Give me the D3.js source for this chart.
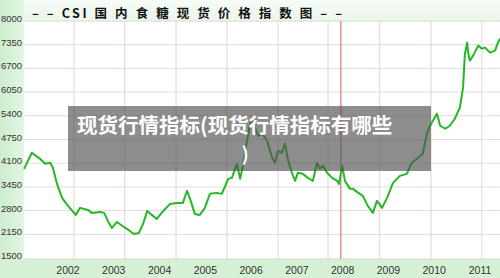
<!DOCTYPE html>
<html>
<head>
<meta charset="utf-8">
<script src="https://cdn.jsdelivr.net/npm/d3@7"></script>
<style>
  body { margin: 0; background: #fff; }
  svg { display: block; }
</style>
</head>
<body>
<div class="chart-area"></div>
<script>
// price index, decimal year -> value
const years = [2001.04, 2001.21, 2001.39, 2001.50, 2001.61, 2001.67, 2001.76, 2001.87, 2002.00, 2002.17,
  2002.26, 2002.44, 2002.52, 2002.70, 2002.79, 2002.87, 2002.96, 2003.07, 2003.22, 2003.35,
  2003.44, 2003.55, 2003.64, 2003.73, 2003.83, 2003.94, 2004.08, 2004.23, 2004.38, 2004.51,
  2004.60, 2004.66, 2004.77, 2004.88, 2004.99, 2005.10, 2005.25, 2005.36, 2005.50, 2005.58,
  2005.69, 2005.76, 2005.82, 2005.91, 2005.98, 2006.02, 2006.08, 2006.15, 2006.24, 2006.35,
  2006.46, 2006.52, 2006.59, 2006.67, 2006.74, 2006.81, 2006.89, 2006.96, 2007.02, 2007.13,
  2007.24, 2007.35, 2007.44, 2007.50, 2007.57, 2007.66, 2007.77, 2007.88, 2007.92, 2007.99,
  2008.05, 2008.16, 2008.23, 2008.31, 2008.44, 2008.55, 2008.66, 2008.75, 2008.86, 2008.97,
  2009.10, 2009.25, 2009.40, 2009.51, 2009.65, 2009.75, 2009.84, 2009.89, 2009.97, 2010.06,
  2010.13, 2010.24, 2010.34, 2010.45, 2010.56, 2010.63, 2010.67, 2010.72, 2010.74, 2010.78,
  2010.85, 2010.96, 2011.04, 2011.11, 2011.22, 2011.33, 2011.39, 2011.44];
const prices = [3946, 4385, 4220, 4083, 4110, 3973, 3533, 3149, 2929, 2682,
  2874, 2819, 2737, 2764, 2737, 2517, 2324, 2489, 2352, 2242,
  2160, 2187, 2434, 2791, 2682, 2572, 2791, 2984, 3011, 3011,
  3341, 3149, 2709, 2682, 2874, 3259, 3286, 3259, 3671, 3698,
  4083, 3671, 4028, 4715, 5182, 5265, 5100, 4852, 4907, 4715,
  4248, 4110, 4440, 4385, 4633, 4165, 3836, 3616, 3836, 3808,
  3698, 3616, 4110, 3950, 4028, 3836, 3698, 3616, 3533, 4028,
  3616, 3396, 3396, 3314, 3204, 2929, 2737, 3066, 2874, 3149,
  3561, 3753, 3808, 4110, 4248, 4358, 4907, 5072, 5265, 5457,
  5127, 5045, 5127, 5320, 5622, 6172, 7106, 7408, 7133, 6914,
  7051, 7325, 7243, 7270, 7133, 7188, 7408, 7518];

const yTicks = [1500, 2150, 2800, 3450, 4100, 4750, 5400, 6050, 6700, 7350, 8000];
const yearLabels = [2002, 2003, 2004, 2005, 2006, 2007, 2008, 2009, 2010, 2011];
const gridYears = [2002.13, 2003.24, 2004.36, 2005.47, 2006.59, 2007.68, 2008.81, 2009.93, 2011.04];
const markYear = 2007.96;

const title = "– –  CSI 国 内 食 糖 现 货 价 格 指 数 图  – –";
const overlayLines = ["现货行情指标(现货行情指标有哪些", ")"];

let width = 500;
let height = 278;

const svg = d3.select(".chart-area").append("svg")
  .attr("width", width)
  .attr("height", height);

const x = d3.scaleLinear()
  .domain([2002, 2011])
  .range([68, 480]);

const y = d3.scaleLinear()
  .domain([1500, 8000])
  .range([258, 21]);

// background bands
const defs = svg.append("defs");
const gl = defs.append("linearGradient").attr("id", "leftband");
gl.append("stop").attr("offset", "0%").attr("stop-color", "#cdeccd");
gl.append("stop").attr("offset", "100%").attr("stop-color", "#e3f5e3");
const gt = defs.append("linearGradient").attr("id", "topband")
  .attr("x1", 0).attr("y1", 0).attr("x2", 0).attr("y2", 1);
gt.append("stop").attr("offset", "0%").attr("stop-color", "#f7fcf7");
gt.append("stop").attr("offset", "100%").attr("stop-color", "#e8f6e8");

svg.append("rect").attr("x", 0).attr("y", 0).attr("width", width).attr("height", 22)
  .attr("fill", "url(#topband)");
svg.append("rect").attr("x", 0).attr("y", 0).attr("width", 24).attr("height", height)
  .attr("fill", "url(#leftband)");
svg.append("rect").attr("x", 0).attr("y", 259).attr("width", width).attr("height", height - 259)
  .attr("fill", "#d6f0d6");

// grid
svg.append("g")
  .selectAll("line")
  .data(yTicks.slice(1))
  .join("line")
  .attr("x1", 24).attr("x2", width)
  .attr("y1", d => y(d)).attr("y2", d => y(d))
  .attr("stroke", "#e3dcdc");

svg.append("g")
  .selectAll("line")
  .data(gridYears)
  .join("line")
  .attr("x1", d => x(d)).attr("x2", d => x(d))
  .attr("y1", y(8000)).attr("y2", 259)
  .attr("stroke", "#e3dcdc")
  .attr("stroke-width", 1.2);

svg.append("line")
  .attr("x1", 24).attr("x2", width)
  .attr("y1", 259).attr("y2", 259)
  .attr("stroke", "#c8dcc8");

// red marker
svg.append("line")
  .attr("x1", x(markYear)).attr("x2", x(markYear))
  .attr("y1", y(8000)).attr("y2", 259)
  .attr("stroke", "#d87878")
  .attr("stroke-width", 1.2);

// axis labels
svg.append("g")
  .selectAll("text")
  .data(yTicks)
  .join("text")
  .attr("x", 1)
  .attr("y", d => y(d) + 1)
  .attr("font-family", "Liberation Sans, sans-serif")
  .attr("font-size", 9.5)
  .attr("fill", "#333")
  .text(d => d);

svg.append("g")
  .selectAll("text")
  .data(yearLabels)
  .join("text")
  .attr("x", d => x(d))
  .attr("y", 274)
  .attr("text-anchor", "middle")
  .attr("font-family", "Liberation Sans, sans-serif")
  .attr("font-size", 10.5)
  .attr("fill", "#333")
  .text(d => d);

// price line
const data = years.map((d, i) => ({year: d, price: prices[i]}));
svg.append("path")
  .datum(data)
  .attr("d", d3.line().x(d => x(d.year)).y(d => y(d.price)))
  .attr("fill", "none")
  .attr("stroke", "#24b824")
  .attr("stroke-width", 2)
  .attr("stroke-linejoin", "round");

// title
svg.append("text")
  .attr("x", 32)
  .attr("y", 18)
  .attr("textLength", 310)
  .attr("lengthAdjust", "spacing")
  .attr("font-family", "Noto Sans CJK SC, sans-serif")
  .attr("font-weight", "bold")
  .attr("font-size", 12.5)
  .attr("fill", "#111")
  .text(title);

// caption overlay
svg.append("rect")
  .attr("x", 68).attr("y", 106)
  .attr("width", 363).attr("height", 65)
  .attr("fill", "#505050")
  .attr("opacity", 0.65);

svg.append("text")
  .attr("x", 77)
  .attr("y", 133)
  .attr("font-family", "Noto Sans CJK SC, sans-serif")
  .attr("font-weight", "bold")
  .attr("font-size", 20.5)
  .attr("fill", "#fff")
  .text(overlayLines[0]);

svg.append("text")
  .attr("x", 245)
  .attr("y", 161)
  .attr("text-anchor", "middle")
  .attr("font-family", "Noto Sans CJK SC, sans-serif")
  .attr("font-weight", "bold")
  .attr("font-size", 19)
  .attr("fill", "#fff")
  .text(overlayLines[1]);
</script>
</body>
</html>
